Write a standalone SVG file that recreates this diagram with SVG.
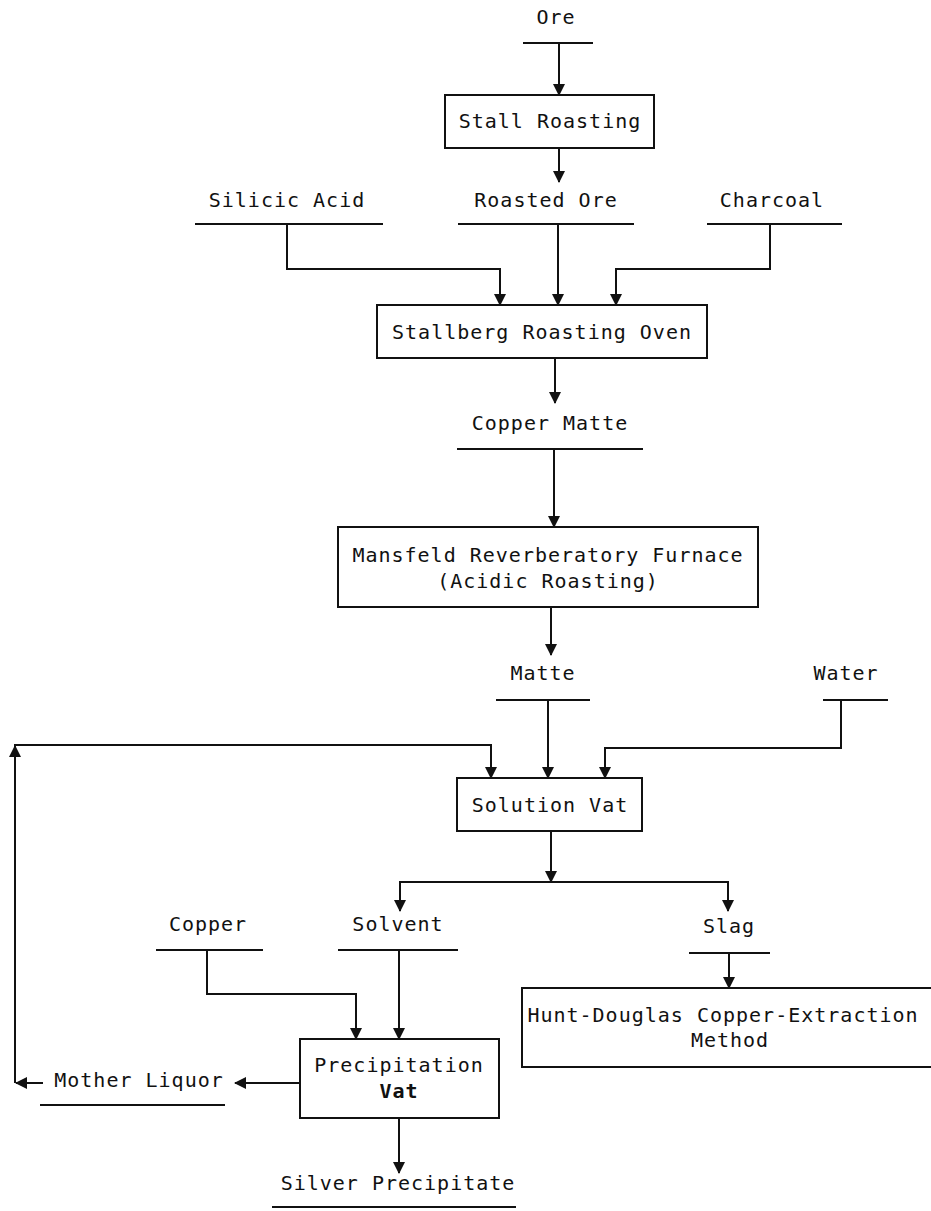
<svg xmlns="http://www.w3.org/2000/svg" width="931" height="1211" viewBox="0 0 931 1211">
<defs>
<style>
text{font-family:"DejaVu Sans Mono","Liberation Mono",monospace;font-size:20px;letter-spacing:1px;fill:#111;text-anchor:middle}
.box{fill:#fff;stroke:#111;stroke-width:2}
.ul{stroke:#111;stroke-width:2;fill:none}
.c{stroke:#111;stroke-width:2;fill:none;marker-end:url(#arr)}
</style>
<marker id="arr" markerUnits="userSpaceOnUse" markerWidth="12" markerHeight="12" refX="11" refY="6" orient="auto">
<path d="M0,0 L12,6 L0,12 z" fill="#111"/>
</marker>
</defs>
<rect width="931" height="1211" fill="#fff"/>
<g id="connectors">
<path class="c" d="M559,43 V95"/>
<path class="c" d="M559,148 V182"/>
<path class="c" d="M287,224 V269 H500 V305"/>
<path class="c" d="M558,224 V305"/>
<path class="c" d="M770,224 V269 H616 V305"/>
<path class="c" d="M555,358 V403"/>
<path class="c" d="M554,449 V527"/>
<path class="c" d="M551,607 V655"/>
<path class="c" d="M548,700 V778"/>
<path class="c" d="M841,700 V748 H605 V778"/>
<path class="c" d="M15,1083 V746"/>
<path class="c" d="M14,745 H491 V778"/>
<path class="c" d="M551,831 V882"/>
<path class="c" d="M551,882 H400 V911"/>
<path class="c" d="M551,882 H728 V911"/>
<path class="c" d="M729,953 V988"/>
<path class="c" d="M399,950 V1039"/>
<path class="c" d="M207,950 V994 H356 V1039"/>
<path class="c" d="M300,1083 H235"/>
<path class="c" d="M43,1083 H16"/>
<path class="c" d="M399,1118 V1173"/>
</g>
<g id="ore"><text x="556" y="24">Ore</text><line class="ul" x1="523" y1="43" x2="593" y2="43"/></g>
<g id="stall-roasting"><rect class="box" x="445" y="95" width="209" height="53"/><text x="550" y="128">Stall Roasting</text></g>
<g id="silicic-acid"><text x="287" y="207">Silicic Acid</text><line class="ul" x1="195" y1="224" x2="383" y2="224"/></g>
<g id="roasted-ore"><text x="546" y="207">Roasted Ore</text><line class="ul" x1="458" y1="224" x2="634" y2="224"/></g>
<g id="charcoal"><text x="772" y="207">Charcoal</text><line class="ul" x1="707" y1="224" x2="842" y2="224"/></g>
<g id="stallberg"><rect class="box" x="377" y="305" width="330" height="53"/><text x="542" y="339">Stallberg Roasting Oven</text></g>
<g id="copper-matte"><text x="550" y="430">Copper Matte</text><line class="ul" x1="457" y1="449" x2="643" y2="449"/></g>
<g id="mansfeld"><rect class="box" x="338" y="527" width="420" height="80"/><text x="548" y="562">Mansfeld Reverberatory Furnace</text><text x="548" y="588">(Acidic Roasting)</text></g>
<g id="matte"><text x="543" y="680">Matte</text><line class="ul" x1="496" y1="700" x2="590" y2="700"/></g>
<g id="water"><text x="846" y="680">Water</text><line class="ul" x1="823" y1="700" x2="888" y2="700"/></g>
<g id="solution-vat"><rect class="box" x="457" y="778" width="185" height="53"/><text x="550" y="812">Solution Vat</text></g>
<g id="copper"><text x="208" y="931">Copper</text><line class="ul" x1="156" y1="950" x2="263" y2="950"/></g>
<g id="solvent"><text x="398" y="931">Solvent</text><line class="ul" x1="338" y1="950" x2="458" y2="950"/></g>
<g id="slag"><text x="729" y="933">Slag</text><line class="ul" x1="689" y1="953" x2="770" y2="953"/></g>
<g id="hunt-douglas"><rect class="box" x="522" y="988" width="420" height="79"/><text x="723" y="1022">Hunt-Douglas Copper-Extraction</text><text x="730" y="1047">Method</text></g>
<g id="precipitation-vat"><rect class="box" x="300" y="1039" width="199" height="79"/><text x="399" y="1072">Precipitation</text><text x="399" y="1098" font-weight="bold">Vat</text></g>
<g id="mother-liquor"><text x="139" y="1087">Mother Liquor</text><line class="ul" x1="40" y1="1105" x2="225" y2="1105"/></g>
<g id="silver-precipitate"><text x="398" y="1190">Silver Precipitate</text><line class="ul" x1="272" y1="1207" x2="516" y2="1207"/></g>
</svg>
